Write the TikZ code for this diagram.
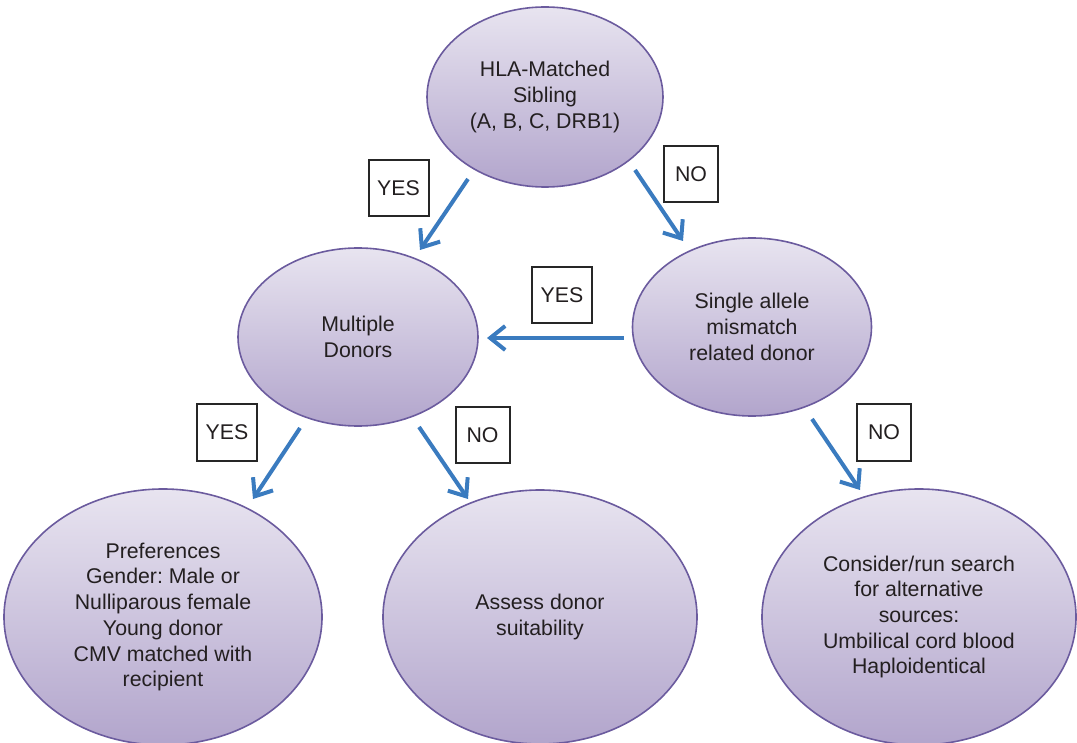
\documentclass[tikz,border=0pt]{standalone}
\usepackage{fontspec}
\setmainfont{Liberation Sans}
\usetikzlibrary{shapes.geometric,arrows.meta,shadings}
\definecolor{efilltop}{HTML}{E8E4F0}
\definecolor{efillbot}{HTML}{B2A5CC}
\definecolor{eborder}{HTML}{6B5B9E}
\definecolor{arrowblue}{HTML}{3A7BBF}
\definecolor{txt}{HTML}{231F20}
\frenchspacing
\begin{document}
\begin{tikzpicture}[x=1pt,y=-1pt,
  font=\fontsize{21.3}{25.7}\selectfont, text=txt,
  bubble/.style={ellipse, draw=eborder, line width=1.6pt, top color=efilltop,
    bottom color=efillbot, inner sep=0pt, align=center},
  ansbox/.style={draw=black!85, line width=2pt, minimum height=56pt,
    inner sep=0pt, fill=white},
  yesbox/.style={ansbox, minimum width=60pt},
  nobox/.style={ansbox, minimum width=54pt},
  flow/.style={draw=arrowblue, line width=4pt,
    -{Straight Barb[length=15pt,width=24pt]}}]
\useasboundingbox (0,0) rectangle (1077,743);
\clip (0,0) rectangle (1077,743);

\node[bubble, minimum width=236pt, minimum height=180pt] (hla) at (545,97)
  {HLA-Matched\\Sibling\\(A, B, C, DRB1)};
\node[bubble, minimum width=240pt, minimum height=178pt] (multi) at (358,337)
  {Multiple\\Donors};
\node[bubble, minimum width=239pt, minimum height=178pt] (single) at (752,327)
  {Single allele\\mismatch\\related donor};
\node[bubble, minimum width=318pt, minimum height=256pt] (pref) at (163,617)
  {Preferences\\Gender: Male or\\Nulliparous female\\Young donor\\CMV matched with\\recipient};
\node[bubble, minimum width=314pt, minimum height=254pt] (assess) at (540,617)
  {Assess donor\\suitability};
\node[bubble, minimum width=314pt, minimum height=256pt] (alt) at (919,617)
  {Consider/run search\\for alternative\\sources:\\Umbilical cord blood\\Haploidentical};

\node[yesbox] (yes1) at (398.5,188.5) {YES};
\node[nobox] (no1) at (691,174) {NO};
\node[yesbox] (yes2) at (562,295.5) {YES};
\node[yesbox] (yes3) at (227,432.5) {YES};
\node[nobox] (no2) at (482.5,435) {NO};
\node[nobox] (no3) at (884,432.5) {NO};

\coordinate (a1s) at (468,179);  \coordinate (a1e) at (420,250);
\coordinate (a2s) at (635,170);  \coordinate (a2e) at (683,241);
\coordinate (a3s) at (624,338);  \coordinate (a3e) at (487,338);
\coordinate (a4s) at (300,428);  \coordinate (a4e) at (253,499);
\coordinate (a5s) at (419,427);  \coordinate (a5e) at (468,499);
\coordinate (a6s) at (812,419);  \coordinate (a6e) at (860,490);

\draw[flow] (a1s) -- (a1e);
\draw[flow] (a2s) -- (a2e);
\draw[flow] (a3s) -- (a3e);
\draw[flow] (a4s) -- (a4e);
\draw[flow] (a5s) -- (a5e);
\draw[flow] (a6s) -- (a6e);
\end{tikzpicture}
\end{document}
